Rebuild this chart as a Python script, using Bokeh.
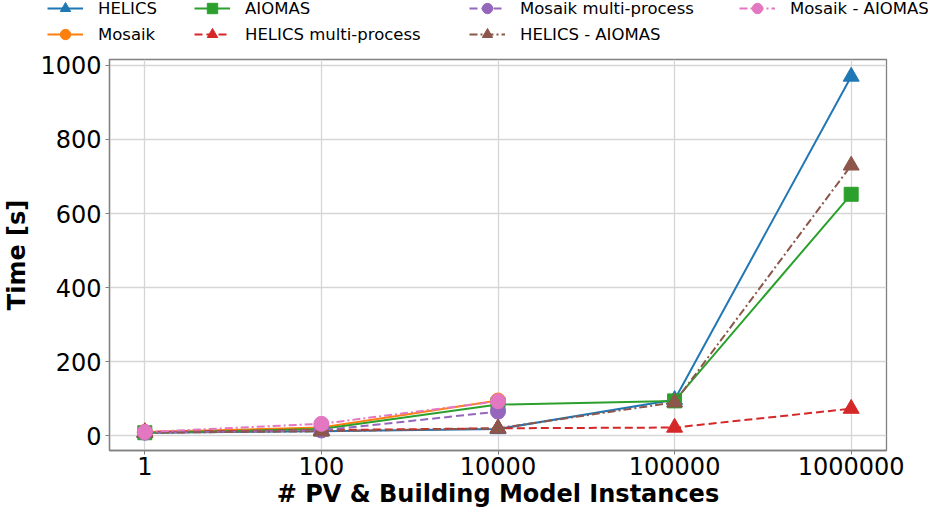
from bokeh.plotting import figure
from bokeh.layouts import column
from bokeh.models import Range1d, FixedTicker, Legend, LegendItem
from bokeh.embed import file_html
from bokeh.resources import INLINE

# ---- data ----
instances = ["1", "100", "10000", "100000", "1000000"]
helics = [8, 12, 18, 97, 970]
mosaik = [10, 22, 95]
aiomas = [8, 18, 84, 94, 652]
helics_mp = [10, 15, 20, 22, 73]
mosaik_mp = [8, 14, 65]
helics_aiomas = [8, 12, 20, 90, 730]
mosaik_aiomas = [10, 32, 93]

series_names = ["HELICS", "Mosaik", "AIOMAS", "HELICS multi-process",
                "Mosaik multi-process", "HELICS - AIOMAS", "Mosaik - AIOMAS"]
series_values = [helics, mosaik, aiomas, helics_mp, mosaik_mp, helics_aiomas, mosaik_aiomas]
colors = ["#1f77b4", "#ff7f0e", "#2ca02c", "#d62728", "#9467bd", "#8c564b", "#e377c2"]
markers = ["triangle", "circle", "square", "triangle", "circle", "triangle", "circle"]
marker_sizes = [16, 15, 14, 16, 15, 16, 15]
dashes = ["solid", "solid", "solid", "8 4", "8 4", "8 3 2 3", "8 3 2 3"]

positions = list(range(len(instances)))

# ---- main plot ----
p = figure(width=928, height=464, output_backend="svg", toolbar_location=None,
           x_range=Range1d(-0.2, 4.2), y_range=Range1d(-40, 1016),
           min_border_left=99, min_border_right=42, min_border_top=11,
           min_border_bottom=62)
p.frame_align = False

# ---- legend strip above the plot (its data lie outside its visible range) ----
lf = figure(width=928, height=48, output_backend="svg", toolbar_location=None,
            x_range=Range1d(-0.2, 4.2), y_range=Range1d(-3, -2),
            x_axis_type=None, y_axis_type=None, min_border=0)
lf.frame_align = False
lf.grid.visible = False
lf.outline_line_color = None

items = []
for name, vals, col, mk, sz, dash in zip(series_names, series_values, colors,
                                          markers, marker_sizes, dashes):
    xs = positions[:len(vals)]
    p.line(xs, vals, line_color=col, line_width=2, line_dash=dash)
    p.scatter(xs, vals, marker=mk, size=sz, fill_color=col, line_color=col)
    l_line = lf.line(xs, vals, line_color=col, line_width=2, line_dash=dash)
    l_mark = lf.scatter(xs, vals, marker=mk, fill_color=col, line_color=col)
    items.append(LegendItem(label=name, renderers=[l_line, l_mark]))

# axes
p.xaxis.ticker = FixedTicker(ticks=positions)
p.xaxis.major_label_overrides = {i: s for i, s in enumerate(instances)}
p.yaxis.ticker = FixedTicker(ticks=[0, 200, 400, 600, 800, 1000])
p.xaxis.axis_label = "# PV & Building Model Instances"
p.yaxis.axis_label = "Time [s]"
for ax in (p.xaxis[0], p.yaxis[0]):
    ax.major_label_text_font = "DejaVu Sans"
    ax.major_label_text_font_size = "24px"
    ax.major_label_text_color = "black"
    ax.axis_label_text_font = "DejaVu Sans"
    ax.axis_label_text_font_size = "24px"
    ax.axis_label_text_font_style = "bold"
    ax.axis_label_text_color = "black"
    ax.axis_line_color = "#808080"
    ax.axis_line_width = 1.3
    ax.major_tick_line_color = "#808080"
    ax.major_tick_out = 4
    ax.major_tick_in = 0
    ax.minor_tick_line_color = None
p.xaxis.major_label_standoff = 2
p.xaxis.axis_label_standoff = 2
p.yaxis.major_label_standoff = 4
p.yaxis.axis_label_standoff = 6

p.grid.grid_line_color = "#d6d6d6"
p.grid.grid_line_width = 1.3
p.outline_line_color = "#808080"
p.outline_line_width = 1.3

# four legend columns (x offsets from the strip's left edge)
col_groups = [[0, 1], [2, 3], [4, 5], [6]]
col_x = [47, 194, 469, 739]
col_y = [1, 1, 1, 27]
for grp, cx, cy in zip(col_groups, col_x, col_y):
    lg = Legend(items=[items[i] for i in grp], location=(cx, cy),
                orientation="vertical", padding=0, margin=0, spacing=0,
                glyph_width=36, glyph_height=26, label_height=26,
                label_standoff=15, label_text_font="DejaVu Sans",
                label_text_font_size="16.5px", label_text_color="black",
                background_fill_alpha=0, border_line_alpha=0)
    lf.add_layout(lg, "center")

open("out.html", "w").write(file_html(column(lf, p, spacing=0), INLINE))
